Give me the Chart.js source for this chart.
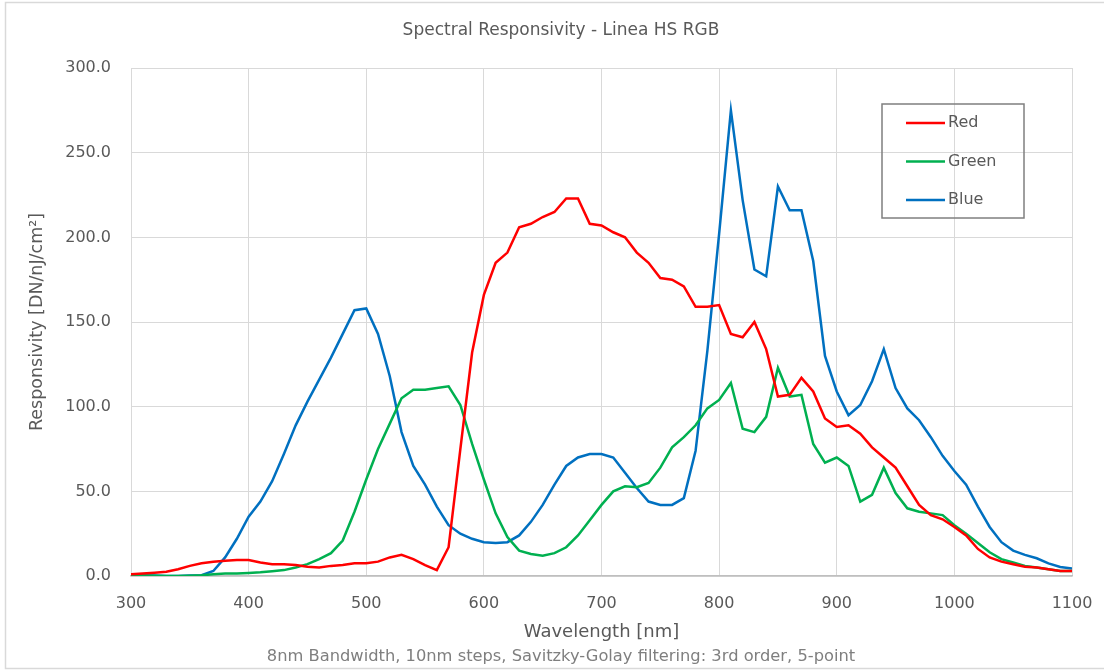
<!DOCTYPE html>
<html>
<head>
<meta charset="utf-8">
<title>Spectral Responsivity - Linea HS RGB</title>
<script src="https://cdn.jsdelivr.net/npm/chart.js@4.4.1/dist/chart.umd.min.js"></script>
<style>
  html, body { margin: 0; padding: 0; background: #fff; }
  #wrap { width: 1104px; height: 671px; position: relative; }
</style>
</head>
<body>
<div id="wrap"><canvas id="graph"></canvas></div>
<script>
// wavelength samples [nm]
const wavelengths = [
  300, 310, 320, 330, 340, 350, 360, 370, 380, 390,
  400, 410, 420, 430, 440, 450, 460, 470, 480, 490,
  500, 510, 520, 530, 540, 550, 560, 570, 580, 590,
  600, 610, 620, 630, 640, 650, 660, 670, 680, 690,
  700, 710, 720, 730, 740, 750, 760, 770, 780, 790,
  800, 810, 820, 830, 840, 850, 860, 870, 880, 890,
  900, 910, 920, 930, 940, 950, 960, 970, 980, 990,
  1000, 1010, 1020, 1030, 1040, 1050, 1060, 1070, 1080, 1090,
  1100,
]

const redValues = [
  1, 1.5, 2, 2.5, 4, 6, 7.5, 8.5, 9, 9.5,
  9.5, 8, 7, 7, 6.5, 5.5, 5, 6, 6.5, 7.5,
  7.5, 8.5, 11, 12.5, 10, 6.5, 3.5, 17, 75, 132,
  166, 185, 191, 206, 208, 212, 215, 223, 223, 208,
  207, 203, 200, 191, 185, 176, 175, 171, 159, 159,
  160, 143, 141, 150, 134, 106, 107, 117, 109, 93,
  88, 89, 84, 76, 70, 64, 53, 42, 36, 33.5,
  29, 24, 16, 11, 8.5, 7, 5.5, 5, 4, 3,
  3,
]

const greenValues = [
  0.5, 0.3, 0.2, 0, 0, 0.2, 0.5, 1, 1.5, 1.5,
  1.8, 2.2, 2.8, 3.5, 5, 7, 10, 13.5, 21, 38,
  57, 75, 90, 105, 110, 110, 111, 112, 101, 78,
  57, 37, 23, 15, 13, 12, 13.5, 17, 24, 33,
  42, 50, 53, 52.5, 55, 64, 76, 82, 89, 99,
  104, 114, 87, 85, 94, 123, 106, 107, 78, 67,
  70, 65, 44, 48, 64, 49, 40, 38, 37, 36,
  30, 25, 19.5, 14, 10, 8, 6, 5, 4, 3,
  3,
]

const blueValues = [
  0.5, 0.5, 0.3, 0, 0, 0.3, 0.5, 3, 11, 22,
  35, 44, 56, 72, 89, 103, 116, 129, 143, 157,
  158, 143, 118, 85, 65, 54, 41, 30, 25, 22,
  20, 19.5, 20, 24, 32, 42, 54, 65, 70, 72,
  72, 70, 61, 52, 44, 42, 42, 46, 74, 133,
  202, 275, 222, 181, 177, 230, 216, 216, 186, 130,
  109, 95, 101, 115, 134, 111, 99, 92, 82, 71,
  62, 54, 41, 29, 20, 15, 12.5, 10.5, 7.5, 5.3,
  4.5,
]

const SERIES = Object.freeze({
  RED: { label: 'Red', colour: '#FF0000', values: redValues },
  GREEN: { label: 'Green', colour: '#00B050', values: greenValues },
  BLUE: { label: 'Blue', colour: '#0070C0', values: blueValues },
})

const TEXT_COLOUR = '#595959'
const FONT = '"DejaVu Sans", sans-serif'

let toPoints = function(values) {
  return wavelengths.map((nm, i) => ({ x: nm, y: values[i] }))
}

// light frame round the whole picture, like the spreadsheet chart object
const frame = {
  id: 'frame',
  beforeDraw(chart) {
    const c = chart.ctx
    c.save()
    c.fillStyle = '#fff'
    c.fillRect(0, 0, chart.width, chart.height)
    c.strokeStyle = '#D9D9D9'
    c.lineWidth = 1.5
    c.strokeRect(5.5, 2.5, chart.width + 20, chart.height - 5)
    c.restore()
  },
}

// boxed legend sitting inside the plot area (top right)
const boxLegend = {
  id: 'boxLegend',
  afterDraw(chart) {
    const c = chart.ctx
    c.save()
    c.strokeStyle = '#7F7F7F'
    c.lineWidth = 1.5
    c.strokeRect(882, 104, 142, 114)
    c.font = '16px ' + FONT
    c.textBaseline = 'middle'
    c.fillStyle = TEXT_COLOUR
    chart.data.datasets.forEach((ds, i) => {
      const y = 123 + i * 38.5
      c.strokeStyle = ds.borderColor
      c.lineWidth = 2.5
      c.beginPath()
      c.moveTo(906, y)
      c.lineTo(945, y)
      c.stroke()
      c.fillText(ds.label, 948, y)
    })
    c.restore()
  },
}

const ctx = document.getElementById('graph').getContext('2d')

let graph = new Chart(ctx, {
  type: 'line',
  data: {
    datasets: Object.values(SERIES).map(s => ({
      label: s.label,
      data: toPoints(s.values),
      borderColor: s.colour,
      backgroundColor: 'transparent',
      borderWidth: 2.5,
      pointRadius: 0,
      tension: 0,
    })),
  },
  options: {
    responsive: true,
    maintainAspectRatio: false,
    animation: false,
    layout: { padding: { left: 18, right: 0, top: 0, bottom: 0 } },
    plugins: {
      legend: { display: false },
      tooltip: { enabled: false },
      title: {
        display: true,
        text: 'Spectral Responsivity - Linea HS RGB',
        color: TEXT_COLOUR,
        font: { family: FONT, size: 17, weight: 'normal' },
        padding: { top: 20, bottom: 27.6 },
      },
      subtitle: {
        display: true,
        position: 'bottom',
        text: '8nm Bandwidth, 10nm steps, Savitzky-Golay filtering: 3rd order, 5-point',
        color: '#7F7F7F',
        font: { family: FONT, size: 16.3, weight: 'normal' },
        padding: { top: 4, bottom: 4.2 },
      },
    },
    scales: {
      x: {
        type: 'linear',
        min: 300,
        max: 1100,
        ticks: {
          stepSize: 100,
          color: TEXT_COLOUR,
          font: { family: FONT, size: 16 },
          padding: 18,
          maxRotation: 0,
          callback: v => String(v),
        },
        grid: { color: '#D9D9D9', drawTicks: false },
        border: { color: '#BFBFBF', width: 1.5 },
        title: {
          display: true,
          text: 'Wavelength [nm]',
          color: TEXT_COLOUR,
          font: { family: FONT, size: 18 },
          padding: { top: 0, bottom: 0 },
        },
        afterFit(scale) {
          scale.height = 67.2
          scale.paddingLeft = 0
          scale.paddingRight = 32
        },
      },
      y: {
        min: 0,
        max: 300,
        ticks: {
          stepSize: 50,
          color: TEXT_COLOUR,
          font: { family: FONT, size: 16 },
          padding: 20,
          callback: v => v.toFixed(1),
        },
        grid: { color: '#D9D9D9', drawTicks: false },
        border: { display: false },
        title: {
          display: true,
          text: 'Responsivity [DN/nJ/cm²]',
          color: TEXT_COLOUR,
          font: { family: FONT, size: 17.5 },
          padding: { top: 8.5, bottom: 0 },
        },
        afterFit(scale) { scale.width = 113 },
      },
    },
  },
  plugins: [frame, boxLegend],
})
</script>
</body>
</html>
